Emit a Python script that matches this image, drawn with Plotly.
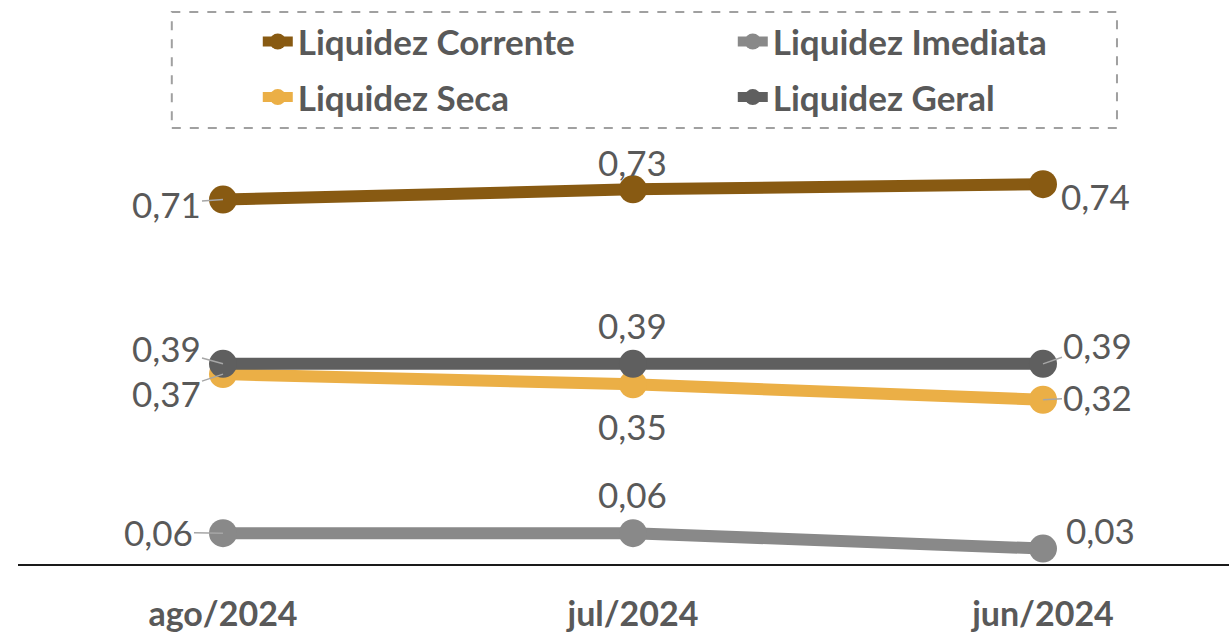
import plotly.graph_objects as go

# ---- data ----
categories = ["ago/2024", "jul/2024", "jun/2024"]
corrente = [0.71, 0.73, 0.74]
imediata = [0.06, 0.06, 0.03]
seca = [0.37, 0.35, 0.32]
geral = [0.39, 0.39, 0.39]

series_names = ["Liquidez Corrente", "Liquidez Imediata", "Liquidez Seca", "Liquidez Geral"]
series_values = [corrente, imediata, seca, geral]

# ---- styles ----
colors = ["#885A12", "#898989", "#EBAF46", "#5F5F5F"]
legend_ids = ["legend", "legend", "legend2", "legend2"]
TXT = "#595959"
FONT = "Lato"

# label offsets (pixels) per series per point: (ax, ay, leader)
label_pos = [
    [(-57, 4, True), (0, -27, False), (53, 12, False)],
    [(-65, -1, True), (0, -39, False), (58, -19, False)],
    [(-57, 19, True), (0, 42, False), (55, -3, True)],
    [(-57, -16, True), (0, -39, False), (55, -19, True)],
]

fig = go.Figure()
for name, vals, col, lg in zip(series_names, series_values, colors, legend_ids):
    fig.add_trace(go.Scatter(
        x=categories, y=vals, name=name, mode="lines+markers",
        line=dict(color=col, width=12),
        marker=dict(color=col, size=28),
        legend=lg, hoverinfo="skip",
    ))

annotations = []
for vals, pos in zip(series_values, label_pos):
    for cat, v, (ax, ay, leader) in zip(categories, vals, pos):
        annotations.append(dict(
            x=cat, y=v, xref="x", yref="y",
            text=f"{v:.2f}".replace(".", ","),
            showarrow=True, arrowhead=0, ax=ax, ay=ay,
            arrowcolor="#A6A6A6" if leader else "rgba(0,0,0,0)",
            arrowwidth=1.5, standoff=0,
            font=dict(family=FONT, size=35, color=TXT),
        ))

legend_common = dict(orientation="h", xanchor="left", yanchor="middle",
                     entrywidth=430, entrywidthmode="pixels",
                     font=dict(family=FONT, size=35, color=TXT, weight="bold"),
                     bgcolor="rgba(0,0,0,0)", itemclick=False, itemdoubleclick=False)

fig.update_layout(
    width=1229, height=633,
    margin=dict(l=18, r=0, t=137, b=66),
    paper_bgcolor="white", plot_bgcolor="white",
    showlegend=True,
    legend=dict(legend_common, x=0.198, y=1.223),
    legend2=dict(legend_common, x=0.198, y=1.093),
    annotations=annotations,
    shapes=[dict(type="rect", xref="paper", yref="paper",
                 x0=0.127, x1=0.9075, y0=1.021, y1=1.293,
                 line=dict(color="#A0A0A0", width=2, dash="dash"),
                 fillcolor="rgba(0,0,0,0)", layer="below")],
    xaxis=dict(type="category", range=[-0.5, 2.4537], showline=True,
               linecolor="#1a1a1a", linewidth=2, showgrid=False, zeroline=False,
               ticks="", ticklabelstandoff=19,
               tickfont=dict(family=FONT, size=34, color=TXT, weight="bold")),
    yaxis=dict(range=[0, 0.832], visible=False, showgrid=False, zeroline=False),
)

fig.write_html("out.html", config={"displayModeBar": False},
               post_script="document.body.style.margin='0';document.body.style.overflow='hidden';")
